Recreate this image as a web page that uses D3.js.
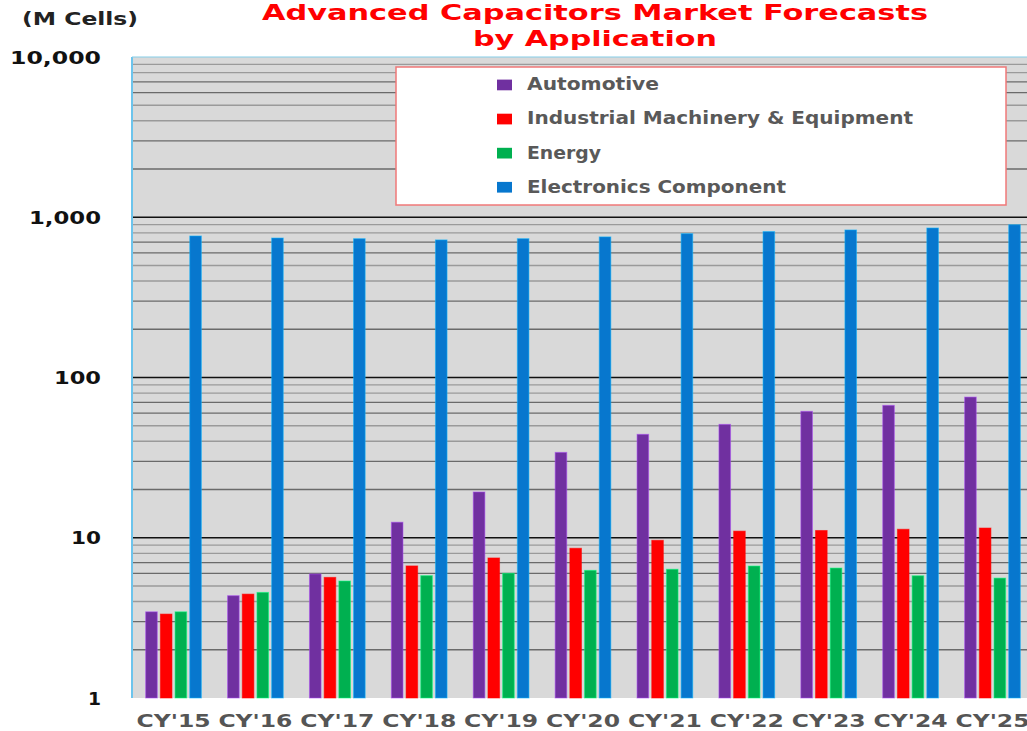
<!DOCTYPE html>
<html lang="en">
<head>
  <meta charset="UTF-8" />
  <title>Advanced Capacitors Market Forecasts by Application</title>
  <script src="https://d3js.org/d3.v7.min.js"></script>
  <style>
    body { margin: 0; background: white; font-family: "DejaVu Sans", Verdana, sans-serif; }
    svg { display: block; overflow: hidden; }
    text { font-weight: bold; }
  </style>
</head>
<body>
  <svg id="chart" width="1027" height="731"></svg>

  <script>
    // data (M Cells, log scale)
    const categories = ["CY'15", "CY'16", "CY'17", "CY'18", "CY'19", "CY'20", "CY'21", "CY'22", "CY'23", "CY'24", "CY'25"];
    const seriesNames = ["Automotive", "Industrial Machinery & Equipment", "Energy", "Electronics Component"];
    const automotive = [3.45, 4.35, 5.94, 12.5, 19.3, 34.1, 44.2, 51, 61.5, 67, 75.5];
    const industrial = [3.34, 4.45, 5.66, 6.67, 7.48, 8.6, 9.64, 11.0, 11.1, 11.3, 11.5];
    const energy = [3.45, 4.56, 5.37, 5.8, 6.0, 6.26, 6.36, 6.66, 6.47, 5.79, 5.6];
    const electronics = [764, 742, 735, 722, 735, 754, 790, 814, 833, 857, 898];
    const yTicks = [1, 10, 100, 1000, 10000];
    const yTickLabels = ["1", "10", "100", "1,000", "10,000"];

    const colors = ["#7030A0", "#FF0000", "#00B050", "#0777CE"];
    const seriesValues = [automotive, industrial, energy, electronics];

    const svg = d3.select("#chart");
    const plot = { left: 132, top: 57, right: 1034, bottom: 698 };

    const x = d3.scaleBand()
      .domain(categories)
      .range([plot.left, plot.right])
      .paddingInner(0.32)
      .paddingOuter(0.167);

    const xs = d3.scaleBand()
      .domain(seriesNames)
      .range([0, x.bandwidth()])
      .paddingInner(0.21)
      .paddingOuter(0);

    const y = d3.scaleLog()
      .domain([1, 10000])
      .range([plot.bottom, plot.top]);

    // plot background
    svg.append("rect")
      .attr("x", plot.left).attr("y", plot.top)
      .attr("width", plot.right - plot.left).attr("height", plot.bottom - plot.top)
      .attr("fill", "#D9D9D9");

    // minor grid
    const minor = y.ticks().filter(v => !yTicks.includes(v));
    svg.append("g")
      .selectAll("line")
      .data(minor)
      .join("line")
      .attr("x1", plot.left).attr("x2", plot.right)
      .attr("y1", d => y(d)).attr("y2", d => y(d))
      .attr("stroke", d => {
        const m = d / Math.pow(10, Math.floor(Math.log10(d) + 1e-9));
        return (m >= 6 && m <= 7) || m <= 3 ? "#6a6a6a" : "#9a9a9a";
      })
      .attr("stroke-width", 1.3);

    // major grid
    svg.append("g")
      .selectAll("line")
      .data(yTicks.filter(v => v > 1 && v < 10000))
      .join("line")
      .attr("x1", plot.left).attr("x2", plot.right)
      .attr("y1", d => y(d)).attr("y2", d => y(d))
      .attr("stroke", "#111")
      .attr("stroke-width", 1.6);

    // bars
    const groups = svg.append("g")
      .selectAll("g")
      .data(categories)
      .join("g")
      .attr("transform", d => `translate(${x(d)},0)`);

    groups.selectAll("rect")
      .data((c, i) => seriesNames.map((s, j) => ({ s, j, v: seriesValues[j][i] })))
      .join("rect")
      .attr("x", d => xs(d.s))
      .attr("width", xs.bandwidth())
      .attr("y", d => y(d.v))
      .attr("height", d => plot.bottom - y(d.v))
      .attr("fill", d => colors[d.j])
      .attr("stroke", d => d3.color(colors[d.j]).brighter(1.2))
      .attr("stroke-opacity", 0.55)
      .attr("stroke-width", 1);

    // plot frame: light blue left and top edges
    svg.append("line")
      .attr("x1", plot.left).attr("x2", plot.left)
      .attr("y1", plot.top).attr("y2", plot.bottom)
      .attr("stroke", "#6CC4EC").attr("stroke-width", 2);
    svg.append("line")
      .attr("x1", plot.left).attr("x2", plot.right)
      .attr("y1", plot.top).attr("y2", plot.top)
      .attr("stroke", "#86CDE8").attr("stroke-width", 1.2);

    // y labels
    const yLabelWidths = [13, 30, 47, 72, 91];
    svg.append("g")
      .selectAll("text")
      .data(yTicks)
      .join("text")
      .attr("x", 101)
      .attr("y", d => y(d) + 6.5)
      .attr("text-anchor", "end")
      .attr("font-size", 18)
      .attr("fill", "#111")
      .attr("textLength", (d, i) => yLabelWidths[i])
      .attr("lengthAdjust", "spacingAndGlyphs")
      .text((d, i) => yTickLabels[i]);

    // x labels
    svg.append("g")
      .selectAll("text")
      .data(categories)
      .join("text")
      .attr("x", d => x(d) + x.bandwidth() / 2)
      .attr("y", 727)
      .attr("text-anchor", "middle")
      .attr("font-size", 17.5)
      .attr("fill", "#555")
      .attr("textLength", 74)
      .attr("lengthAdjust", "spacingAndGlyphs")
      .text(d => d);

    // unit label
    svg.append("text")
      .attr("x", 22).attr("y", 25)
      .attr("font-size", 17)
      .attr("fill", "#222")
      .attr("textLength", 116)
      .attr("lengthAdjust", "spacingAndGlyphs")
      .text("(M Cells)");

    // title
    svg.append("text")
      .attr("x", 595).attr("y", 20)
      .attr("text-anchor", "middle")
      .attr("font-size", 22)
      .attr("fill", "#FF0000")
      .attr("textLength", 666)
      .attr("lengthAdjust", "spacingAndGlyphs")
      .text("Advanced Capacitors Market Forecasts");
    svg.append("text")
      .attr("x", 595).attr("y", 46)
      .attr("text-anchor", "middle")
      .attr("font-size", 22)
      .attr("fill", "#FF0000")
      .attr("textLength", 244)
      .attr("lengthAdjust", "spacingAndGlyphs")
      .text("by Application");

    // legend
    const legend = svg.append("g");
    legend.append("rect")
      .attr("x", 396).attr("y", 67)
      .attr("width", 610).attr("height", 138)
      .attr("fill", "white")
      .attr("stroke", "#F07878").attr("stroke-width", 1.5);

    const legendWidths = [132, 386, 74, 259];
    const rows = legend.selectAll("g")
      .data(seriesNames)
      .join("g")
      .attr("transform", (d, i) => `translate(0,${90.3 + i * 34.1})`);
    rows.append("rect")
      .attr("x", 497).attr("y", -10.7)
      .attr("width", 15).attr("height", 10.7)
      .attr("fill", (d, i) => colors[i]);
    rows.append("text")
      .attr("x", 527).attr("y", 0)
      .attr("font-size", 18)
      .attr("fill", "#595959")
      .attr("textLength", (d, i) => legendWidths[i])
      .attr("lengthAdjust", "spacingAndGlyphs")
      .text(d => d);
  </script>
</body>
</html>
